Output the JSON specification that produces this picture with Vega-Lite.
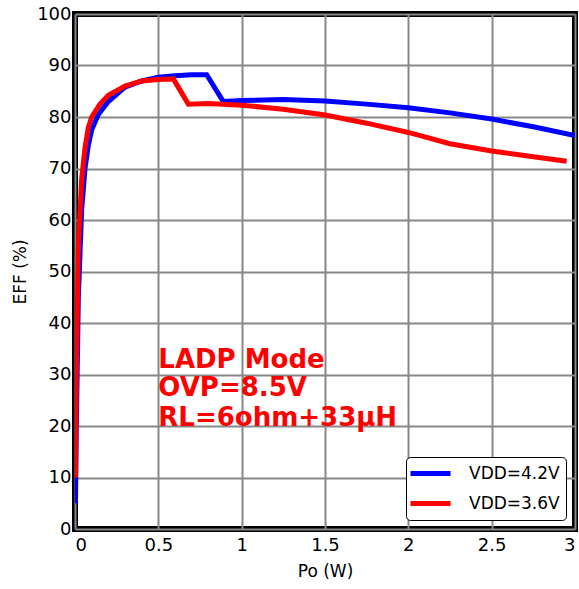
{
  "$schema": "https://vega.github.io/schema/vega-lite/v6.json",
  "width": 500,
  "height": 515,
  "autosize": {"type": "none"},
  "padding": {"left": 75, "top": 14, "right": 4, "bottom": 60},
  "config": {
    "font": "DejaVu Sans",
    "view": {"stroke": "black", "strokeWidth": 6},
    "axis": {
      "labelFont": "DejaVu Sans", "labelFontSize": 18, "labelColor": "black",
      "titleFont": "DejaVu Sans", "titleFontSize": 17, "titleFontWeight": "normal", "titleColor": "black",
      "gridColor": "#888888", "gridWidth": 2, "gridOpacity": 1,
      "domain": false, "ticks": false
    }
  },
  "layer": [
    {
      "data": {"values": [
        {"po": 0.003, "eff": 5, "s": "VDD=4.2V"},
        {"po": 0.008, "eff": 20, "s": "VDD=4.2V"},
        {"po": 0.02, "eff": 45, "s": "VDD=4.2V"},
        {"po": 0.04, "eff": 62, "s": "VDD=4.2V"},
        {"po": 0.06, "eff": 70, "s": "VDD=4.2V"},
        {"po": 0.08, "eff": 74.5, "s": "VDD=4.2V"},
        {"po": 0.1, "eff": 77.5, "s": "VDD=4.2V"},
        {"po": 0.14, "eff": 80.5, "s": "VDD=4.2V"},
        {"po": 0.2, "eff": 83, "s": "VDD=4.2V"},
        {"po": 0.3, "eff": 85.8, "s": "VDD=4.2V"},
        {"po": 0.4, "eff": 87, "s": "VDD=4.2V"},
        {"po": 0.5, "eff": 87.7, "s": "VDD=4.2V"},
        {"po": 0.6, "eff": 88, "s": "VDD=4.2V"},
        {"po": 0.7, "eff": 88.2, "s": "VDD=4.2V"},
        {"po": 0.79, "eff": 88.2, "s": "VDD=4.2V"},
        {"po": 0.89, "eff": 83, "s": "VDD=4.2V"},
        {"po": 1.0, "eff": 83.2, "s": "VDD=4.2V"},
        {"po": 1.25, "eff": 83.4, "s": "VDD=4.2V"},
        {"po": 1.5, "eff": 83.1, "s": "VDD=4.2V"},
        {"po": 1.75, "eff": 82.5, "s": "VDD=4.2V"},
        {"po": 2.0, "eff": 81.8, "s": "VDD=4.2V"},
        {"po": 2.25, "eff": 80.8, "s": "VDD=4.2V"},
        {"po": 2.5, "eff": 79.6, "s": "VDD=4.2V"},
        {"po": 2.75, "eff": 78.1, "s": "VDD=4.2V"},
        {"po": 3.0, "eff": 76.4, "s": "VDD=4.2V"},
        {"po": 0.003, "eff": 10, "s": "VDD=3.6V"},
        {"po": 0.008, "eff": 30, "s": "VDD=3.6V"},
        {"po": 0.02, "eff": 55, "s": "VDD=3.6V"},
        {"po": 0.04, "eff": 68, "s": "VDD=3.6V"},
        {"po": 0.06, "eff": 74, "s": "VDD=3.6V"},
        {"po": 0.08, "eff": 78, "s": "VDD=3.6V"},
        {"po": 0.1, "eff": 80, "s": "VDD=3.6V"},
        {"po": 0.15, "eff": 82.5, "s": "VDD=3.6V"},
        {"po": 0.2, "eff": 84.2, "s": "VDD=3.6V"},
        {"po": 0.3, "eff": 86, "s": "VDD=3.6V"},
        {"po": 0.4, "eff": 87, "s": "VDD=3.6V"},
        {"po": 0.5, "eff": 87.3, "s": "VDD=3.6V"},
        {"po": 0.59, "eff": 87.4, "s": "VDD=3.6V"},
        {"po": 0.68, "eff": 82.5, "s": "VDD=3.6V"},
        {"po": 0.8, "eff": 82.6, "s": "VDD=3.6V"},
        {"po": 1.0, "eff": 82.3, "s": "VDD=3.6V"},
        {"po": 1.25, "eff": 81.5, "s": "VDD=3.6V"},
        {"po": 1.5, "eff": 80.4, "s": "VDD=3.6V"},
        {"po": 1.75, "eff": 78.8, "s": "VDD=3.6V"},
        {"po": 2.0, "eff": 77, "s": "VDD=3.6V"},
        {"po": 2.25, "eff": 74.8, "s": "VDD=3.6V"},
        {"po": 2.5, "eff": 73.4, "s": "VDD=3.6V"},
        {"po": 2.75, "eff": 72.3, "s": "VDD=3.6V"},
        {"po": 2.95, "eff": 71.4, "s": "VDD=3.6V"}
      ]},
      "mark": {"type": "line", "strokeWidth": 5, "clip": true},
      "encoding": {
        "x": {"field": "po", "type": "quantitative", "title": "Po (W)",
              "scale": {"domain": [0, 3], "nice": false},
              "axis": {"values": [0, 0.5, 1, 1.5, 2, 2.5, 3], "labelExpr": "datum.value + ''", "labelPadding": 7, "titlePadding": 9}},
        "y": {"field": "eff", "type": "quantitative", "title": "EFF (%)",
              "scale": {"domain": [0, 100], "nice": false},
              "axis": {"values": [0, 10, 20, 30, 40, 50, 60, 70, 80, 90, 100], "labelPadding": 4, "titlePadding": 7}},
        "color": {"field": "s", "type": "nominal",
                  "scale": {"domain": ["VDD=4.2V", "VDD=3.6V"], "range": ["#0000ff", "#ff0000"]},
                  "legend": {"title": null, "orient": "bottom-right", "offset": 9,
                             "symbolType": "M-1.5,0H3.5", "symbolStrokeWidth": 5, "symbolSize": 256,
                             "labelFontSize": 17, "labelFont": "DejaVu Sans", "labelColor": "black",
                             "fillColor": "white", "strokeColor": "black", "cornerRadius": 4,
                             "padding": 6, "rowPadding": 9, "labelOffset": 36}},
        "order": {"field": "po", "type": "quantitative"}
      }
    },
    {
      "data": {"values": [
        {"po": 0.5, "eff": 32.9, "t": "LADP Mode"},
        {"po": 0.5, "eff": 27.3, "t": "OVP=8.5V"},
        {"po": 0.5, "eff": 21.6, "t": "RL=6ohm+33µH"}
      ]},
      "mark": {"type": "text", "align": "left", "baseline": "middle", "fontSize": 26, "fontWeight": "bold", "color": "#ff0000", "font": "DejaVu Sans"},
      "encoding": {
        "x": {"field": "po", "type": "quantitative"},
        "y": {"field": "eff", "type": "quantitative"},
        "text": {"field": "t"}
      }
    }
  ]
}
